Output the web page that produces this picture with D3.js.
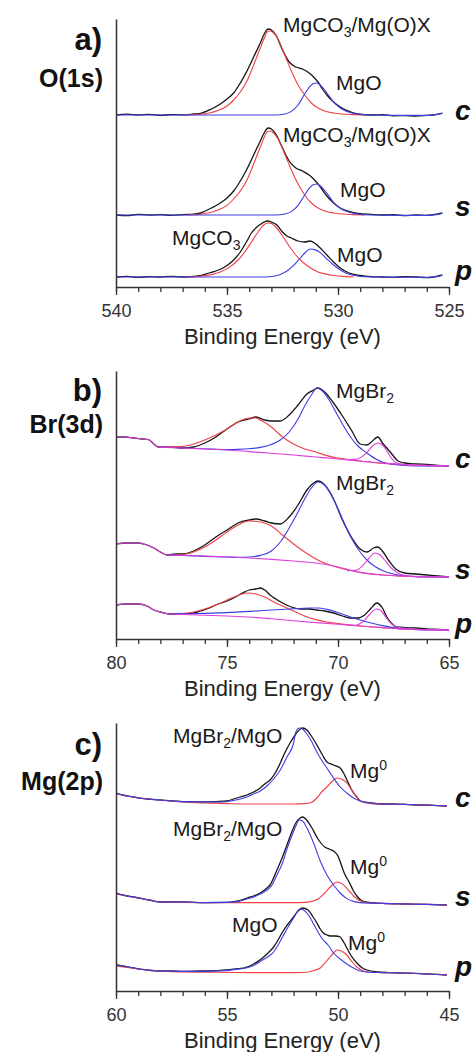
<!DOCTYPE html>
<html>
<head>
<meta charset="utf-8">
<script src="https://cdn.jsdelivr.net/npm/d3@7/dist/d3.min.js"></script>
<style>
  body { margin: 0; background: #fff; }
  text { font-family: "Liberation Sans", Arial, sans-serif; }
</style>
</head>
<body>
<div id="chart"></div>
<script>
// ---------- data: [binding energy (eV), intensity above the spectrum's own baseline (a.u.)] ----------
const samples = ["c", "s", "p"];

// a) O(1s)
const o1sTicks = [540, 535, 530, 525];
const o1sOffsets = [86, 36, 5];
const o1sRaw_c = [[540,0],[539.5,0.4],[539,0],[538.5,0.3],[538,-0.2],[537.5,0.2],[537,0.1],[536.5,0.5],[536.2,0.8],[535.7,3],[535.3,5.5],[535,8],[534.7,11],[534.4,16],[534.1,22],[533.8,29],[533.5,36],[533.3,41],[533.15,43],[533,42.5],[532.8,40],[532.5,32.5],[532.2,26.5],[531.9,24],[531.6,23],[531.3,21],[531.1,19],[530.9,16.5],[530.7,13],[530.5,10],[530.2,6.5],[529.9,4],[529.5,1.8],[529.1,0.5],[528.5,0],[528,0.2],[527.5,-0.4],[527,-0.3],[526.5,-0.5],[526,-0.2],[525.7,0],[525.5,0.4],[525.3,1]];
const o1sCO3_c = [[536.8,0],[536.3,0.3],[535.8,1],[535.4,2.3],[535,4.5],[534.7,7.5],[534.4,11.5],[534.1,17],[533.8,25],[533.5,33.5],[533.3,39],[533.2,41.5],[533.05,42],[532.9,41],[532.7,38],[532.4,30],[532.1,22],[531.8,15],[531.5,10],[531.2,6],[530.9,3.5],[530.6,2],[530.2,1],[529.8,0.5],[529.3,0.2],[528.8,0]];
const o1sMgO_c = [[540,0],[538,0],[536,0],[534,0],[532.8,0],[532.4,0.5],[532.1,1.8],[531.8,5],[531.5,10.5],[531.3,13.8],[531.1,15.7],[530.95,16],[530.8,15],[530.6,12.5],[530.4,9.5],[530.2,6.5],[529.9,3.5],[529.6,1.8],[529.2,0.6],[528.8,0.1],[528.4,0],[527,-0.2],[526,-0.2],[525.5,0.3],[525.3,0.9]];
const o1sRaw_s = [[540,0],[539.5,-0.3],[539,0.3],[538.5,0],[538,0.2],[537.5,-0.2],[537,0.2],[536.5,0.4],[536.2,1],[535.7,3.5],[535.3,6],[535,8.5],[534.7,12],[534.4,17],[534.1,23],[533.8,30],[533.5,37],[533.3,41.5],[533.15,43.5],[533,43],[532.8,40.5],[532.5,33.5],[532.2,27],[531.9,23.5],[531.6,22],[531.3,20],[531.1,18],[530.9,15.5],[530.7,12.5],[530.5,9.5],[530.2,6],[529.9,3.5],[529.5,1.8],[529.1,0.8],[528.5,0.3],[528,0],[527.5,0.2],[527,-0.3],[526.5,0],[526,-0.2],[525.7,0.2],[525.5,0.5],[525.3,1]];
const o1sCO3_s = [[536.8,0],[536.3,0.3],[535.8,1.1],[535.4,2.5],[535,4.8],[534.7,8],[534.4,12],[534.1,17.5],[533.8,25.5],[533.5,34],[533.3,39.5],[533.2,41.5],[533.05,42],[532.9,41],[532.7,38],[532.4,30.5],[532.1,22.5],[531.8,15.5],[531.5,10],[531.2,6],[530.9,3.5],[530.6,2],[530.2,1],[529.8,0.5],[529.3,0.2],[528.8,0]];
const o1sMgO_s = [[540,0],[538,0],[536,0],[534,0],[532.8,0],[532.4,0.5],[532.1,1.7],[531.8,4.8],[531.5,10],[531.3,13.3],[531.1,15.2],[530.95,15.5],[530.8,14.6],[530.6,12.2],[530.4,9.3],[530.2,6.3],[529.9,3.4],[529.6,1.7],[529.2,0.6],[528.8,0.1],[528.4,0],[527,-0.2],[526,-0.2],[525.5,0.3],[525.3,0.9]];
const o1sRaw_p = [[540,0],[539.5,0.3],[539,-0.2],[538.5,0.2],[538,0],[537.5,0.3],[537,0],[536.5,0.3],[536.2,0.7],[535.8,2],[535.5,3],[535.1,5],[534.7,8.5],[534.4,12.5],[534.1,18],[533.9,22],[533.6,25.5],[533.4,27],[533.2,28],[533,27.5],[532.75,26],[532.5,22.5],[532.3,20.5],[532.1,19.5],[531.8,18],[531.5,17.5],[531.25,18],[531,16.5],[530.8,14.5],[530.5,11],[530.2,7.5],[529.9,4.5],[529.5,2],[529,0.8],[528.5,0.2],[528,0],[527.5,-0.2],[527,0.2],[526.5,0],[526,-0.3],[525.7,0],[525.5,0.5],[525.3,1]];
const o1sCO3_p = [[536.8,0],[536.2,0.4],[535.7,1.2],[535.3,2.5],[534.9,4.8],[534.5,8.5],[534.2,12.5],[533.9,17.5],[533.6,22.5],[533.35,26],[533.15,27],[533,26.7],[532.8,25],[532.5,20.5],[532.2,15.5],[531.9,11],[531.6,7.5],[531.3,5],[531,3],[530.7,1.8],[530.3,0.9],[529.8,0.3],[529.3,0]];
const o1sMgO_p = [[540,0],[538,0],[536,0],[534,0],[533.3,0],[532.9,0.4],[532.6,1.3],[532.3,3],[532,5.8],[531.7,9.5],[531.45,12.5],[531.25,14],[531.05,13.7],[530.8,12.2],[530.5,9],[530.2,6],[529.9,3.5],[529.6,1.8],[529.2,0.6],[528.8,0.1],[528.4,0],[527,-0.1],[526,-0.2],[525.5,0.3],[525.3,0.9]];

// b) Br(3d)
const br3dTicks = [80, 75, 70, 65];
const br3dOffsets = [86.5, 31, 4.5];
const br3dRaw_c = [[80,14.5],[79.6,14.5],[79.2,14],[78.8,13.5],[78.5,13],[78.3,11],[78.1,9.5],[77.5,9.5],[77,9],[76.5,9.5],[76,11.5],[75.5,14.5],[75,18.5],[74.5,22],[74,23.5],[73.7,24.5],[73.3,23],[73,22.5],[72.6,22.5],[72.2,25.5],[71.8,30.5],[71.4,36],[71.1,38],[70.9,39],[70.6,37],[70.2,31.5],[69.8,25],[69.4,18],[69,11],[68.7,10.5],[68.5,12],[68.2,14.5],[68,11.5],[67.8,9],[67.5,5],[67.3,2.5],[67,1.5],[66.5,1],[66,0.8],[65.5,0.3],[65,0]];
const br3dBg_c = [[80,14.5],[79.6,14.5],[79.2,14],[78.8,13.5],[78.5,13],[78.3,11],[78.1,9.5],[77,9],[76,8.5],[75,8],[74,7.2],[73,6.4],[72,5.5],[71,4.5],[70,3.5],[69,2.4],[68,1.5],[67,0.7],[66,0.3],[65,0]];
const br3dHigh_c = [[78,9.5],[77,9.8],[76.5,11],[76,13],[75.5,15.5],[75,18.5],[74.5,22],[74,24],[73.7,24],[73.5,23],[73,19.5],[72.5,14.5],[72,11],[71.5,8.5],[71,7],[70.5,5.2],[70,4],[69.5,3.2],[69,2.5],[68,1.3],[67,0.6],[66,0.2],[65,0]];
const br3dMgBr2_c = [[78,9.5],[77,9],[76,8.6],[75,8.2],[74.5,8.3],[74,8.6],[73.5,9.3],[73,10.8],[72.6,13],[72.2,17],[71.8,23.5],[71.5,30],[71.2,35.5],[70.95,39],[70.7,37.5],[70.4,33],[70.1,27],[69.8,21],[69.5,15.5],[69.1,10],[68.7,6.5],[68.3,3.5],[68,2],[67.5,0.8],[67,0.3],[66,0],[65,0]];
const br3dLow_c = [[69.6,3.2],[69.2,3.3],[68.9,4.8],[68.6,8],[68.4,10.5],[68.2,11.5],[68,10.5],[67.8,7.5],[67.6,4],[67.4,1.8],[67.1,0.8],[66.8,0.4],[66,0.2],[65,0]];
const br3dRaw_s = [[80,16.5],[79.5,17],[79,17],[78.6,16],[78.3,14.5],[78,12.5],[77.7,11],[77.3,11.5],[77,11.5],[76.5,13],[76,16],[75.5,20],[75,23.5],[74.5,27],[74,28.5],[73.7,29],[73.3,28],[73,27],[72.6,26.5],[72.2,30],[71.8,36],[71.4,43.5],[71.1,47],[70.9,48],[70.6,46],[70.2,39],[69.8,28.5],[69.4,20],[69,14],[68.7,12.5],[68.4,14.5],[68.2,15],[68,13],[67.7,8],[67.4,4],[67,2],[66.5,1.5],[66,1],[65.5,0.5],[65,0]];
const br3dBg_s = [[80,16.5],[79.5,17],[79,17],[78.6,16],[78.3,14.5],[78,12.5],[77.7,11],[77,10.8],[76,10.5],[75,10],[74,9.5],[73,8.8],[72,8],[71,7],[70,5],[69.5,3.5],[69,2.2],[68,1],[67,0.4],[66,0.1],[65,0]];
const br3dHigh_s = [[77.7,11],[77,11.2],[76.5,12.5],[76,15],[75.5,18.5],[75,22.5],[74.5,26],[74,28],[73.5,27.5],[73,25.5],[72.5,21],[72,16.5],[71.5,12.5],[71,9],[70.5,6.5],[70,4.8],[69.5,3.5],[69,2.4],[68,1],[67,0.4],[66,0.1],[65,0]];
const br3dMgBr2_s = [[77.7,11],[77,10.8],[76,10.3],[75,10],[74.5,9.8],[74,10],[73.5,10.8],[73,13],[72.6,17.5],[72.2,24.5],[71.8,32.5],[71.5,39],[71.2,44.5],[70.9,47.5],[70.6,46],[70.3,41],[70,34],[69.7,26.5],[69.4,19.5],[69.1,14],[68.7,8.5],[68.3,5],[68,3.3],[67.5,1.5],[67,0.6],[66.5,0.2],[66,0],[65,0]];
const br3dLow_s = [[69.6,3.2],[69.2,3.3],[68.9,5.5],[68.6,9.5],[68.35,12],[68.1,11],[67.9,8.5],[67.6,4.5],[67.3,2],[67,0.8],[66.5,0.3],[66,0.1],[65,0]];
const br3dRaw_p = [[80,12.5],[79.5,13],[79,13],[78.6,12],[78.3,10],[78,9],[77.6,8],[77,8],[76.5,8.5],[76.2,9.5],[75.8,11],[75.5,12.5],[75,14.5],[74.7,16],[74.3,18.5],[74,20],[73.7,20.5],[73.5,21],[73.3,20],[73.06,17.5],[72.8,15.5],[72.5,13.5],[72.1,11.5],[71.7,10.5],[71.3,10.5],[70.95,10],[70.6,9.5],[70.2,8.5],[69.8,7],[69.46,6],[69.1,6],[68.8,7.5],[68.5,11],[68.25,13.5],[68,11],[67.8,6.5],[67.6,3.5],[67.35,1.5],[67,1.2],[66.5,1],[66,0.5],[65.5,0.3],[65,0]];
const br3dBg_p = [[80,12.5],[79.5,13],[79,13],[78.6,12],[78.3,10],[78,9],[77.6,8],[77,7.8],[76,7.4],[75,7],[74,6.5],[73,5.6],[72,4.6],[71,3.7],[70,2.9],[69,2],[68,1.2],[67,0.5],[66,0.2],[65,0]];
const br3dHigh_p = [[77.6,8],[77,8.2],[76.5,9],[76,10.5],[75.5,12.5],[75,15],[74.5,17.3],[74.1,18.5],[73.7,18],[73.3,16.5],[72.9,14],[72.5,12],[72.3,11],[72,9.5],[71.5,7],[71,5.2],[70.5,4],[70,3.2],[69,2],[68,1.2],[67,0.5],[66,0.2],[65,0]];
const br3dMgBr2_p = [[77.6,8],[77,8.1],[76,8.3],[75,8.7],[74,9.3],[73,10],[72,10.6],[71.3,11],[70.9,11],[70.5,10.3],[70,8.8],[69.5,6.8],[69,5],[68.5,3.5],[68,2.2],[67.5,1.2],[67,0.5],[66.5,0.2],[66,0],[65,0]];
const br3dLow_p = [[69.5,2.3],[69.2,2.4],[68.9,4],[68.6,7.5],[68.4,9.8],[68.25,10.5],[68.05,9.5],[67.85,6.5],[67.6,3.2],[67.35,1.5],[67,0.8],[66.5,0.3],[66,0.1],[65,0]];

// c) Mg(2p)
const mg2pTicks = [60, 55, 50, 45];
const mg2pOffsets = [92.5, 43, 8];
const mg2pRaw_c = [[60,6.5],[59.7,5.5],[59.2,4.5],[58.6,3.5],[58,3],[57.5,2.5],[57,2.2],[56.2,2],[55.5,2.2],[55,2.5],[54.7,3.5],[54.4,4.5],[54.1,5.5],[53.8,7],[53.5,9],[53.3,11],[53.06,13],[52.8,17],[52.6,21.5],[52.4,26.5],[52.16,31.5],[51.9,36],[51.7,38.5],[51.6,39],[51.4,38],[51.2,35],[50.95,30.5],[50.7,25.5],[50.5,22],[50.2,20.5],[49.9,19],[49.75,16.5],[49.6,13],[49.45,9.5],[49.3,6.5],[49.15,4.5],[49,2.5],[48.5,1.5],[48,1],[47.5,1],[47,0.8],[46.5,0.5],[46,0.5],[45.5,0.2],[45.1,0]];
const mg2pOxide_c = [[60,6.5],[59.7,5.5],[59.2,4.5],[58.6,3.5],[58,3],[57.5,2.5],[57,2.2],[56.2,2],[55.5,2],[55,2.2],[54.7,2.8],[54.4,3.5],[54.1,4.5],[53.8,6],[53.5,7.5],[53.2,10],[52.9,13.5],[52.6,18],[52.3,24.5],[52,31.5],[51.9,37],[51.75,39],[51.6,38.5],[51.4,36],[51.2,32.5],[51,28],[50.8,24],[50.5,19],[50.2,14],[49.9,9.5],[49.6,6.5],[49.3,4],[49,2.5],[48.5,1.5],[48,1],[47,0.8],[46,0.5],[45.1,0]];
const mg2pMetal_c = [[60,6],[59.5,5],[59,4],[58,3],[57,2],[56,1.5],[55,1.2],[54,1],[53,1],[52,1],[51.5,1.2],[51.2,1.8],[50.95,4],[50.7,7.5],[50.5,9.5],[50.25,12.5],[50.05,14],[49.85,13.5],[49.6,11.5],[49.35,7.5],[49.15,4.5],[48.9,2],[48.5,1.2],[48,1],[47,0.8],[46,0.5],[45.1,0]];
const mg2pRaw_s = [[60,6],[59.7,5],[59.5,4.5],[59.2,4],[58.5,2.5],[58,1.5],[57,1.5],[56,1.2],[55,1.3],[54.5,2],[54.1,3.5],[53.8,4.5],[53.5,6],[53.2,8.5],[53.06,10],[52.75,17.5],[52.5,24],[52.3,30],[52.1,36],[51.9,41],[51.7,43.5],[51.6,44],[51.45,43],[51.2,39],[50.9,33],[50.6,29],[50.4,28],[50.2,27],[50,24.5],[49.85,20],[49.7,15.5],[49.5,11.5],[49.3,7],[49.15,4.5],[48.9,2],[48.5,1.2],[48,0.8],[47,0.5],[46,0.3],[45.1,0]];
const mg2pOxide_s = [[60,6],[59.7,5],[59.5,4.5],[59.2,4],[58.5,2.5],[58,1.5],[57,1.5],[56,1.2],[55,1.3],[54.5,1.8],[54.1,3],[53.8,4],[53.5,5.5],[53.2,7.5],[53,9.5],[52.75,15],[52.5,21],[52.3,28],[52.1,34],[51.9,39.5],[51.75,42.5],[51.6,42],[51.4,38.5],[51.1,31],[50.8,22],[50.5,15],[50.2,10],[49.9,6],[49.6,3.2],[49.3,1.8],[49,1.2],[48,0.8],[47,0.5],[46,0.3],[45.1,0]];
const mg2pMetal_s = [[60,5.5],[59,3.5],[58,1.5],[57,1.3],[56,1.2],[55,1.2],[54,1.2],[53,1.2],[52,1.2],[51.5,1.3],[51.2,1.8],[50.9,3],[50.6,6],[50.3,9.5],[50.05,11.5],[49.8,10.5],[49.5,7],[49.2,3.5],[48.9,1.6],[48.5,1],[48,0.8],[47,0.5],[46,0.3],[45.1,0]];
const mg2pRaw_p = [[60,5],[59.7,4.5],[59.2,3.5],[58.6,2.5],[58,2],[57.5,2],[57,1.8],[56.2,2],[55.5,2.2],[55,2.5],[54.6,3],[54.1,4],[53.8,5.5],[53.4,8.5],[53.15,11],[52.9,14],[52.7,17.5],[52.5,21.5],[52.25,25.5],[52,29],[51.8,32],[51.6,33.5],[51.35,32.5],[51.15,29.5],[50.95,26],[50.8,23],[50.66,21],[50.5,20],[50.36,19.5],[50.1,19.5],[49.9,19],[49.75,16.5],[49.6,13.5],[49.4,9.5],[49.15,6],[48.9,3.5],[48.7,2.5],[48.2,1.5],[47.7,1.2],[47.2,1],[46.5,0.8],[46,0.5],[45.5,0.3],[45.1,0]];
const mg2pOxide_p = [[60,5],[59.7,4.5],[59.2,3.5],[58.6,2.5],[58,2],[57,1.8],[56,1.8],[55.5,2],[55,2.3],[54.6,2.8],[54.1,3.6],[53.8,4.8],[53.4,7.5],[53.1,9.5],[52.9,11.5],[52.7,15],[52.5,19],[52.25,24],[52,28.5],[51.85,31.5],[51.7,33],[51.55,32.5],[51.3,29.5],[51.1,25.5],[50.95,22.5],[50.7,18],[50.45,15],[50.2,11],[49.9,8],[49.6,5.5],[49.3,3.5],[49,2],[48.7,1.5],[48,1.2],[47,1],[46,0.5],[45.1,0]];
const mg2pMetal_p = [[60,4.5],[59,3],[58,2],[57,1.5],[56,1.4],[55,1.3],[54,1.2],[53,1.2],[52,1.2],[51.4,1.4],[51.1,2.2],[50.8,3.5],[50.55,6.5],[50.36,9],[50.2,11],[50.05,12.5],[49.85,12],[49.6,10],[49.4,7],[49.15,4],[48.9,2.2],[48.7,1.5],[48,1.2],[47,1],[46,0.5],[45.1,0]];

// ---------- layout ----------
const W = 472, H = 1052;
const left = 116, right = 449, plotH = 268;
const yMax = 134;
const colors = { raw: "#151515", red: "#ee4046", blue: "#3d3de4", mag: "#dd40dd" };

const svg = d3.select("#chart").append("svg")
    .attr("width", W)
    .attr("height", H);

const panels = [
  { axisY: 287, domain: [540, 525], ticks: o1sTicks, offsets: o1sOffsets,
    letter: "a)", letterY: 50, element: "O(1s)", elementY: 87,
    spectra: [
      [[o1sRaw_c, "raw"], [o1sCO3_c, "red"], [o1sMgO_c, "blue"]],
      [[o1sRaw_s, "raw"], [o1sCO3_s, "red"], [o1sMgO_s, "blue"]],
      [[o1sRaw_p, "raw"], [o1sCO3_p, "red"], [o1sMgO_p, "blue"]]
    ],
    sampleY: [120, 216, 280] },
  { axisY: 639, domain: [80, 65], ticks: br3dTicks, offsets: br3dOffsets,
    letter: "b)", letterY: 401, element: "Br(3d)", elementY: 433,
    spectra: [
      [[br3dRaw_c, "raw"], [br3dHigh_c, "red"], [br3dMgBr2_c, "blue"], [br3dBg_c, "mag"], [br3dLow_c, "mag"]],
      [[br3dRaw_s, "raw"], [br3dHigh_s, "red"], [br3dMgBr2_s, "blue"], [br3dBg_s, "mag"], [br3dLow_s, "mag"]],
      [[br3dRaw_p, "raw"], [br3dHigh_p, "red"], [br3dMgBr2_p, "blue"], [br3dBg_p, "mag"], [br3dLow_p, "mag"]]
    ],
    sampleY: [468, 579, 633] },
  { axisY: 991, domain: [60, 45], ticks: mg2pTicks, offsets: mg2pOffsets,
    letter: "c)", letterY: 755, element: "Mg(2p)", elementY: 790,
    spectra: [
      [[mg2pRaw_c, "raw"], [mg2pMetal_c, "red"], [mg2pOxide_c, "blue"]],
      [[mg2pRaw_s, "raw"], [mg2pMetal_s, "red"], [mg2pOxide_s, "blue"]],
      [[mg2pRaw_p, "raw"], [mg2pMetal_p, "red"], [mg2pOxide_p, "blue"]]
    ],
    sampleY: [807, 906, 976] }
];

// peak labels: [parts, x, baseline y]; parts = [text, "sub"|"sup"|""]
const peakLabels = [
  [[["MgCO", ""], ["3", "sub"], ["/Mg(O)X", ""]], 283, 32],
  [[["MgO", ""]], 336, 90],
  [[["MgCO", ""], ["3", "sub"], ["/Mg(O)X", ""]], 283, 142],
  [[["MgO", ""]], 340, 197],
  [[["MgCO", ""], ["3", "sub"]], 172, 245],
  [[["MgO", ""]], 337, 262],
  [[["MgBr", ""], ["2", "sub"]], 336, 398],
  [[["MgBr", ""], ["2", "sub"]], 336, 490],
  [[["MgBr", ""], ["2", "sub"], ["/MgO", ""]], 173, 743],
  [[["Mg", ""], ["0", "sup"]], 350, 778],
  [[["MgBr", ""], ["2", "sub"], ["/MgO", ""]], 173, 836],
  [[["Mg", ""], ["0", "sup"]], 350, 874],
  [[["MgO", ""]], 232, 932],
  [[["Mg", ""], ["0", "sup"]], 348, 950]
];

panels.forEach(function(p) {
  let x = d3.scaleLinear().domain(p.domain).range([left, right]);
  let y = d3.scaleLinear().domain([0, yMax]).range([p.axisY, p.axisY - plotH]);
  let g = svg.append("g");

  // spectra
  p.spectra.forEach(function(curves, i) {
    let off = p.offsets[i];
    let line = d3.line()
        .x(function(d) { return x(d[0]); })
        .y(function(d) { return y(d[1] + off); })
        .curve(d3.curveMonotoneX);
    curves.forEach(function(c) {
      g.append("path")
          .datum(c[0])
          .attr("fill", "none")
          .attr("stroke", colors[c[1]])
          .attr("stroke-width", c[1] == "raw" ? 1.3 : 1.1)
          .attr("stroke-linejoin", "round")
          .attr("d", line);
    });
    g.append("text")
        .attr("x", 455)
        .attr("y", p.sampleY[i])
        .style("font-size", "28px")
        .style("font-weight", "bold")
        .style("font-style", "italic")
        .style("fill", "#111")
        .text(samples[i]);
  });

  // x axis: labelled majors + 1 eV minor ticks
  let minor = d3.range(p.domain[1], p.domain[0] + 1, 1);
  g.append("g")
      .attr("transform", "translate(0," + p.axisY + ")")
      .call(d3.axisBottom(x).tickValues(minor).tickSize(5).tickSizeOuter(0).tickFormat(""))
      .call(function(a) { a.selectAll("line").attr("stroke", "#333").attr("stroke-width", 1.3); });
  let ax = g.append("g")
      .attr("transform", "translate(0," + p.axisY + ")")
      .call(d3.axisBottom(x).tickValues(p.ticks).tickSize(8).tickSizeOuter(0).tickPadding(6));
  ax.select(".domain").attr("stroke", "#333").attr("stroke-width", 1.5);
  ax.selectAll("line").attr("stroke", "#333").attr("stroke-width", 1.3);
  ax.selectAll("text")
      .attr("dy", null)
      .attr("y", 30)
      .style("font-family", "'Liberation Sans', Arial, sans-serif")
      .style("font-size", "18px")
      .style("fill", "#333");

  // y axis (line only)
  let ay = g.append("g")
      .attr("transform", "translate(" + left + ",0)")
      .call(d3.axisLeft(y).tickValues([]).tickSizeOuter(0));
  ay.select(".domain").attr("stroke", "#333").attr("stroke-width", 1.5);

  g.append("text")
      .attr("x", (left + right) / 2)
      .attr("y", p.axisY + 57)
      .attr("text-anchor", "middle")
      .style("font-size", "22px")
      .style("fill", "#222")
      .text("Binding Energy (eV)");

  g.append("text")
      .attr("x", 102)
      .attr("y", p.letterY)
      .attr("text-anchor", "end")
      .style("font-size", "31px")
      .style("font-weight", "bold")
      .style("fill", "#111")
      .text(p.letter);

  g.append("text")
      .attr("x", 103)
      .attr("y", p.elementY)
      .attr("text-anchor", "end")
      .style("font-size", "25px")
      .style("font-weight", "bold")
      .style("fill", "#111")
      .text(p.element);
});

peakLabels.forEach(function(l) {
  let t = svg.append("text")
      .attr("x", l[1])
      .attr("y", l[2])
      .style("font-size", "21px")
      .style("fill", "#1a1a1a");
  let shift = 0;
  l[0].forEach(function(part) {
    let target = part[1] == "sub" ? 5 : part[1] == "sup" ? -8 : 0;
    t.append("tspan")
        .attr("dy", target - shift)
        .style("font-size", part[1] ? "14px" : "21px")
        .text(part[0]);
    shift = target;
  });
});
</script>
</body>
</html>
